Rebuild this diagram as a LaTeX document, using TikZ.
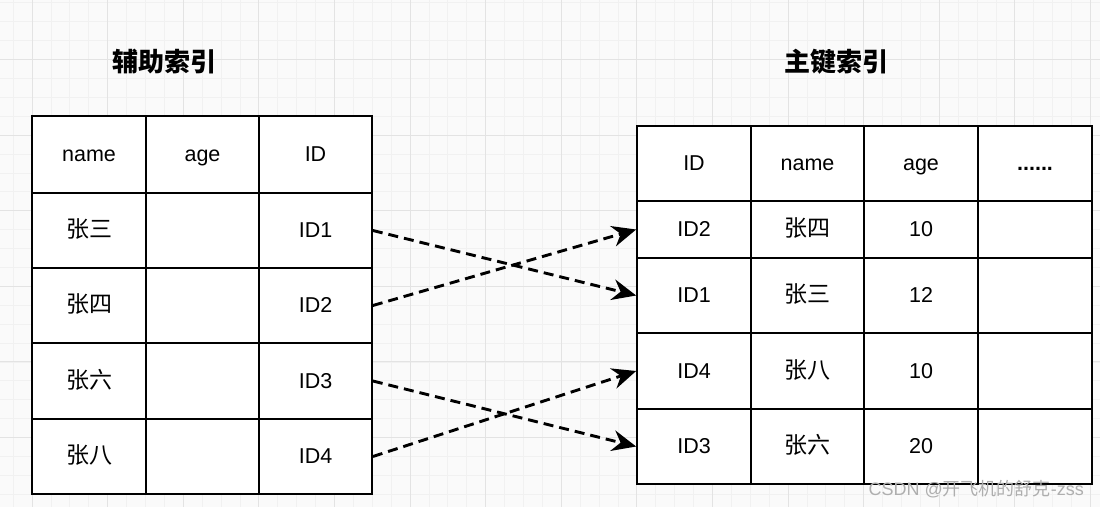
\documentclass[tikz,border=0pt]{standalone}
\usepackage{fontspec}
\setmainfont{Liberation Sans}
\newfontfamily\cjk{Noto Sans CJK SC}
\usetikzlibrary{arrows.meta}
\definecolor{minorgrid}{HTML}{F1F1F1}
\definecolor{majorgrid}{HTML}{E3E3E3}
\definecolor{wm}{HTML}{AEAEAE}
\tikzset{
  cell/.style={draw=black, line width=1.7pt, fill=white, inner sep=0pt,
    text height=17pt, text depth=3pt,
    font=\fontsize{21.5}{24}\selectfont},
  cn/.style={font=\cjk\fontsize{23}{26}\selectfont},
  title/.style={font=\cjk\bfseries\fontsize{26}{30}\selectfont},
  link/.style={line width=2.9pt, dash pattern=on 10pt off 6pt,
    -{Stealth[length=24pt,width=21pt,inset=8pt]}},
  minorline/.style={draw=minorgrid, line width=0.8pt},
  majorline/.style={draw=majorgrid, line width=1pt}
}
\begin{document}
\begin{tikzpicture}[x=1pt,y=-1pt]
\useasboundingbox (0,0) rectangle (1100,507);
\fill[white!98!black] (0,0) rectangle (1100,507);
\begin{scope}
\clip (0,0) rectangle (1100,507);
\foreach \i in {-2,...,57} {
  \pgfmathsetmacro{\xx}{32+\i*18.9}
  \draw[minorline] (\xx,0) -- (\xx,507);
}
\foreach \j in {-4,...,24} {
  \pgfmathsetmacro{\yy}{59.5+\j*18.9}
  \draw[minorline] (0,\yy) -- (1100,\yy);
}
\foreach \i in {0,...,14} {
  \pgfmathsetmacro{\xx}{32+\i*75.6}
  \draw[majorline] (\xx,0) -- (\xx,507);
}
\foreach \j in {-1,...,6} {
  \pgfmathsetmacro{\yy}{59.5+\j*75.6}
  \draw[majorline] (0,\yy) -- (1100,\yy);
}
\end{scope}

% titles
\node[title] (t1) at (164,62) {辅助索引};
\node[title] (t2) at (836,62) {主键索引};

% left table (secondary index)
\node[cell, minimum width=114pt, minimum height=77pt] (LH1) at (89,154.5) {name};
\node[cell, minimum width=113pt, minimum height=77pt] (LH2) at (202.5,154.5) {age};
\node[cell, minimum width=113pt, minimum height=77pt] (LH3) at (315.5,154.5) {ID};

\node[cell, cn, minimum width=114pt, minimum height=75pt] (L1a) at (89,230.5) {张三};
\node[cell, minimum width=113pt, minimum height=75pt] (L1b) at (202.5,230.5) {};
\node[cell, minimum width=113pt, minimum height=75pt] (L1c) at (315.5,230.5) {ID1};

\node[cell, cn, minimum width=114pt, minimum height=75pt] (L2a) at (89,305.5) {张四};
\node[cell, minimum width=113pt, minimum height=75pt] (L2b) at (202.5,305.5) {};
\node[cell, minimum width=113pt, minimum height=75pt] (L2c) at (315.5,305.5) {ID2};

\node[cell, cn, minimum width=114pt, minimum height=76pt] (L3a) at (89,381) {张六};
\node[cell, minimum width=113pt, minimum height=76pt] (L3b) at (202.5,381) {};
\node[cell, minimum width=113pt, minimum height=76pt] (L3c) at (315.5,381) {ID3};

\node[cell, cn, minimum width=114pt, minimum height=75pt] (L4a) at (89,456.5) {张八};
\node[cell, minimum width=113pt, minimum height=75pt] (L4b) at (202.5,456.5) {};
\node[cell, minimum width=113pt, minimum height=75pt] (L4c) at (315.5,456.5) {ID4};

% right table (primary index)
\node[cell, minimum width=114pt, minimum height=75pt] (RH1) at (694,163.5) {ID};
\node[cell, minimum width=113pt, minimum height=75pt] (RH2) at (807.5,163.5) {name};
\node[cell, minimum width=114pt, minimum height=75pt] (RH3) at (921,163.5) {age};
\node[cell, minimum width=114pt, minimum height=75pt, font=\bfseries\fontsize{21.5}{24}\selectfont] (RH4) at (1035,163.5) {......};

\node[cell, minimum width=114pt, minimum height=57pt] (R1a) at (694,229.5) {ID2};
\node[cell, cn, minimum width=113pt, minimum height=57pt] (R1b) at (807.5,229.5) {张四};
\node[cell, minimum width=114pt, minimum height=57pt] (R1c) at (921,229.5) {10};
\node[cell, minimum width=114pt, minimum height=57pt] (R1d) at (1035,229.5) {};

\node[cell, minimum width=114pt, minimum height=75pt] (R2a) at (694,295.5) {ID1};
\node[cell, cn, minimum width=113pt, minimum height=75pt] (R2b) at (807.5,295.5) {张三};
\node[cell, minimum width=114pt, minimum height=75pt] (R2c) at (921,295.5) {12};
\node[cell, minimum width=114pt, minimum height=75pt] (R2d) at (1035,295.5) {};

\node[cell, minimum width=114pt, minimum height=76pt] (R3a) at (694,371) {ID4};
\node[cell, cn, minimum width=113pt, minimum height=76pt] (R3b) at (807.5,371) {张八};
\node[cell, minimum width=114pt, minimum height=76pt] (R3c) at (921,371) {10};
\node[cell, minimum width=114pt, minimum height=76pt] (R3d) at (1035,371) {};

\node[cell, minimum width=114pt, minimum height=75pt] (R4a) at (694,446.5) {ID3};
\node[cell, cn, minimum width=113pt, minimum height=75pt] (R4b) at (807.5,446.5) {张六};
\node[cell, minimum width=114pt, minimum height=75pt] (R4c) at (921,446.5) {20};
\node[cell, minimum width=114pt, minimum height=75pt] (R4d) at (1035,446.5) {};

% links
\draw[link] (L1c.east) -- (R2a.west);
\draw[link] (L2c.east) -- (R1a.west);
\draw[link] (L3c.east) -- (R4a.west);
\draw[link] (L4c.east) -- (R3a.west);

% watermark
\node[text=wm, font=\fontsize{18}{20}\selectfont, anchor=east, inner sep=0pt] (wmk) at (1084,489) {CSDN @{\cjk 开飞机的舒克}-zss};
\end{tikzpicture}
\end{document}
